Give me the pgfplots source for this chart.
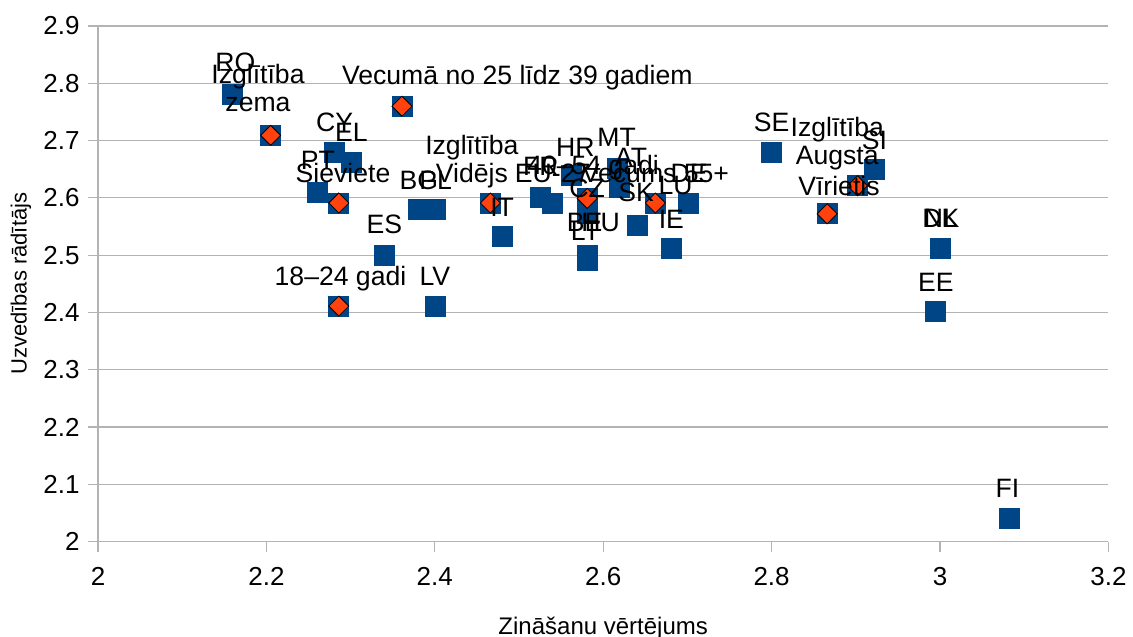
\documentclass[border=0pt]{standalone}
\usepackage{fontspec}
\setmainfont{Liberation Sans}
\usepackage{pgfplots}
\usepackage{pgfplotstable}
\pgfplotsset{compat=1.18}
\definecolor{lblue}{HTML}{004586}
\definecolor{lorange}{HTML}{FF420E}
\definecolor{lgrid}{HTML}{B3B3B3}
\NewDocumentCommand\twoline{mm}{\begin{tabular}[b]{@{}c@{}}#1\\#2\end{tabular}}

% countries (blue squares)
\pgfplotstableread{
x y
2.160 2.781
2.281 2.680
2.301 2.661
2.261 2.610
2.381 2.580
2.401 2.580
2.340 2.500
2.401 2.411
2.480 2.532
2.526 2.601
2.540 2.591
2.562 2.640
2.617 2.652
2.619 2.619
2.581 2.573
2.581 2.500
2.581 2.500
2.581 2.490
2.641 2.551
2.662 2.591
2.681 2.511
2.701 2.591
2.800 2.680
2.922 2.649
3.001 2.511
3.001 2.511
2.995 2.401
3.082 2.041
}\countries

% groups (orange diamonds)
\pgfplotstableread{
x y
2.205 2.709
2.361 2.760
2.286 2.591
2.286 2.411
2.466 2.591
2.581 2.599
2.662 2.591
2.866 2.572
2.902 2.621
}\groups

% label positions (centre x, baseline y)
\pgfplotstableread[col sep=comma]{
x,y,label
2.163,2.8205,RO
2.190,2.750,\twoline{Izglītība}{zema}
2.498,2.798,Vecumā no 25 līdz 39 gadiem
2.281,2.716,CY
2.301,2.699,EL
2.261,2.649,PT
2.291,2.627,Sieviete
2.381,2.614,BG
2.401,2.614,PL
2.340,2.538,ES
2.288,2.447,18–24 gadi
2.400,2.447,LV
2.444,2.627,\twoline{Izglītība}{Vidējs}
2.480,2.567,IT
2.526,2.639,FR
2.540,2.627,EU-27
2.567,2.673,HR
2.588,2.640,40–54 gadi
2.616,2.689,MT
2.633,2.654,AT
2.581,2.600,CZ
2.662,2.627,Vecums 55+
2.702,2.627,DE
2.639,2.594,SK
2.686,2.606,LU
2.681,2.546,IE
2.578,2.542,BE
2.597,2.542,HU
2.579,2.525,LT
2.800,2.716,SE
2.878,2.658,\twoline{Izglītība}{Augsta}
2.922,2.684,SI
2.880,2.604,Vīrietis
3.001,2.548,DK
3.001,2.548,NL
2.995,2.437,EE
3.080,2.076,FI
}\labels

\begin{document}
\begin{tikzpicture}
\begin{axis}[
  name=ax,
  scale only axis,
  width=505.2bp, height=257.75bp,
  xmin=2, xmax=3.2, ymin=2, ymax=2.9,
  xtick={2,2.2,2.4,2.6,2.8,3,3.2},
  ytick={2,2.1,2.2,2.3,2.4,2.5,2.6,2.7,2.8,2.9},
  axis x line*=bottom, axis y line*=left,
  axis line style={draw=lgrid, line width=0.6bp},
  tick style={draw=lgrid, line width=0.6bp},
  tick align=outside,
  major tick length=5bp,
  ymajorgrids, grid style={draw=lgrid, line width=0.6bp},
  /pgf/number format/assume math mode=true,
  tick label style={font=\fontsize{13bp}{15bp}\selectfont, inner sep=0pt},
  xticklabel style={anchor=north, yshift=-7.5bp},
  yticklabel style={anchor=east, xshift=-4bp},
  xlabel={Zināšanu vērtējums},
  ylabel={Uzvedības rādītājs},
  every axis x label/.style={at={(axis description cs:0.5,0)}, anchor=base, yshift=-46.5bp, font=\fontsize{12bp}{14bp}\selectfont},
  every axis y label/.style={at={(axis description cs:-0.0762,0.5)}, anchor=center, rotate=90, font=\fontsize{11bp}{13bp}\selectfont},
]
\addplot[only marks, mark=square*, mark size=5bp, mark options={draw=lblue, fill=lblue}] table[x=x,y=y] {\countries};
\addplot[only marks, mark=square*, mark size=5bp, mark options={draw=lblue, fill=lblue}] table[x=x,y=y] {\groups};
\addplot[only marks, mark=square*, mark size=3.54bp, mark options={draw=none, fill=lorange, rotate=45}] table[x=x,y=y] {\groups};
\addplot[draw=none, mark=none, nodes near coords, point meta=explicit symbolic,
  every node near coord/.append style={anchor=base, inner sep=0pt, text=black, font=\fontsize{13.3bp}{14bp}\selectfont}]
  table[x=x, y=y, meta=label] {\labels};
\end{axis}
\pgfresetboundingbox
\path ([shift={(-49bp,-47.75bp)}]ax.south west) rectangle ([shift={(12.3bp,13bp)}]ax.north east);
\end{tikzpicture}
\end{document}
